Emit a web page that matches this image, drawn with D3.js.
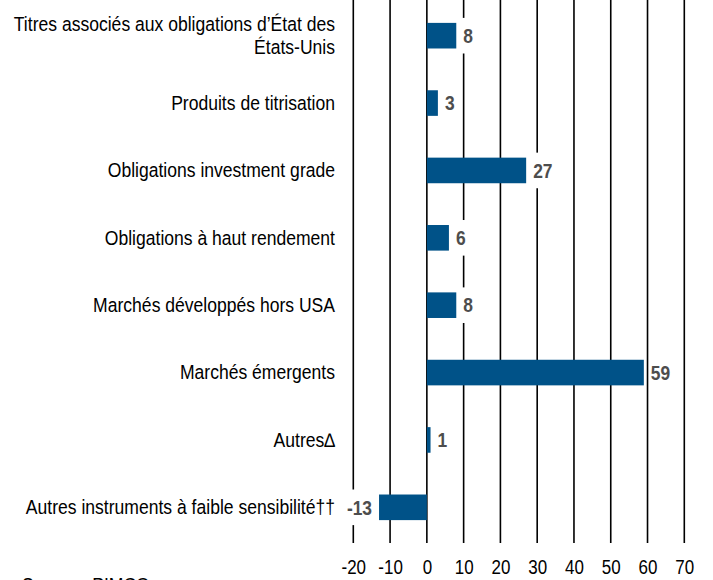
<!DOCTYPE html>
<html>
<head>
<meta charset="utf-8">
<script src="https://cdn.jsdelivr.net/npm/d3@7"></script>
<style>
  body { margin: 0; background: #fff; }
  svg { display: block; }
  .cat { font-family: "Liberation Sans", Arial, sans-serif; font-size: 19.5px; fill: #000; }
  .val { font-family: "Liberation Sans", Arial, sans-serif; font-size: 20px; font-weight: bold; fill: #4d4d4d; }
  .tick text { font-family: "Liberation Sans", Arial, sans-serif; font-size: 19.5px; fill: #000; }
</style>
</head>
<body>
<script>
  const categories = [
    'Titres associés aux obligations d\u2019État des|États-Unis',
    'Produits de titrisation',
    'Obligations investment grade',
    'Obligations à haut rendement',
    'Marchés développés hors USA',
    'Marchés émergents',
    'Autres\u2206',
    'Autres instruments à faible sensibilité\u2020\u2020'
  ];
  const values = [8, 3, 27, 6, 8, 59, 1, -13];
  const tickValues = [-20, -10, 0, 10, 20, 30, 40, 50, 60, 70];
  const sourceNote = 'Source : PIMCO';

  const width = 713;
  const height = 580;
  const squeeze = 0.87;    // police étroite simulée (chiffres)
  const catSqueeze = 0.9;  // police étroite simulée (libellés)

  const svg = d3.select('body')
          .append('svg')
          .attr('width', width)
          .attr('height', height);

  // échelles
  const x = d3.scaleLinear()
          .domain([-20, 70])
          .range([353.3, 684.3]);

  const y = d3.scaleBand()
          .domain(categories)
          .range([2, 541])
          .paddingInner(0.62)
          .paddingOuter(0.31);

  // lignes verticales de la grille
  svg.append('g')
          .selectAll('line')
          .data(tickValues)
          .enter()
          .append('line')
          .attr('x1', d => x(d))
          .attr('x2', d => x(d))
          .attr('y1', 0)
          .attr('y2', 543)
          .attr('stroke', '#000')
          .attr('stroke-width', 1.6);

  // axe du bas (étiquettes seulement)
  const axis = svg.append('g')
          .attr('transform', 'translate(0,543)')
          .call(d3.axisBottom(x).tickValues(tickValues).tickSize(0).tickPadding(17).tickFormat(d => String(d)));
  axis.select('.domain').remove();
  axis.selectAll('.tick text').attr('transform', `scale(${squeeze},1)`);

  // barres
  svg.append('g')
          .selectAll('rect')
          .data(values)
          .enter()
          .append('rect')
          .attr('x', d => x(Math.min(0, d)))
          .attr('y', (d, i) => y(categories[i]))
          .attr('width', d => Math.abs(x(d) - x(0)))
          .attr('height', y.bandwidth())
          .attr('fill', '#005288');

  // étiquettes des valeurs, sur fond blanc
  const vals = svg.append('g')
          .selectAll('g')
          .data(values)
          .enter()
          .append('g')
          .attr('transform', (d, i) => {
            const tx = d < 0 ? x(d) - 7 : x(d) + 7;
            const ty = y(categories[i]) + y.bandwidth() / 2;
            return `translate(${tx},${ty}) scale(${squeeze},1)`;
          });

  vals.append('text')
          .attr('class', 'val')
          .attr('dy', '0.36em')
          .attr('text-anchor', d => d < 0 ? 'end' : 'start')
          .text(d => d);

  vals.insert('rect', 'text')
          .each(function () {
            const bb = this.parentNode.querySelector('text').getBBox();
            d3.select(this)
                    .attr('x', bb.x - 2)
                    .attr('y', -y.bandwidth() / 2 - 5)
                    .attr('width', bb.width + 4)
                    .attr('height', y.bandwidth() + 10)
                    .attr('fill', '#fff');
          });

  // étiquettes des catégories
  const cats = svg.append('g')
          .selectAll('text')
          .data(categories)
          .enter()
          .append('text')
          .attr('class', 'cat')
          .attr('text-anchor', 'end')
          .attr('transform', d => `translate(335,${y(d) + y.bandwidth() / 2}) scale(${catSqueeze},1)`);

  cats.each(function (d) {
    const parts = d.split('|');
    const t = d3.select(this);
    parts.forEach((p, k) => {
      t.append('tspan')
              .attr('x', 0)
              .attr('dy', k === 0 ? (0.35 - (parts.length - 1) * 0.6) + 'em' : '1.2em')
              .text(p);
    });
  });

  // source, coupée en bas de l'image
  svg.append('text')
          .attr('class', 'cat')
          .attr('transform', `translate(22,592) scale(${catSqueeze},1)`)
          .text(sourceNote);
</script>
</body>
</html>
